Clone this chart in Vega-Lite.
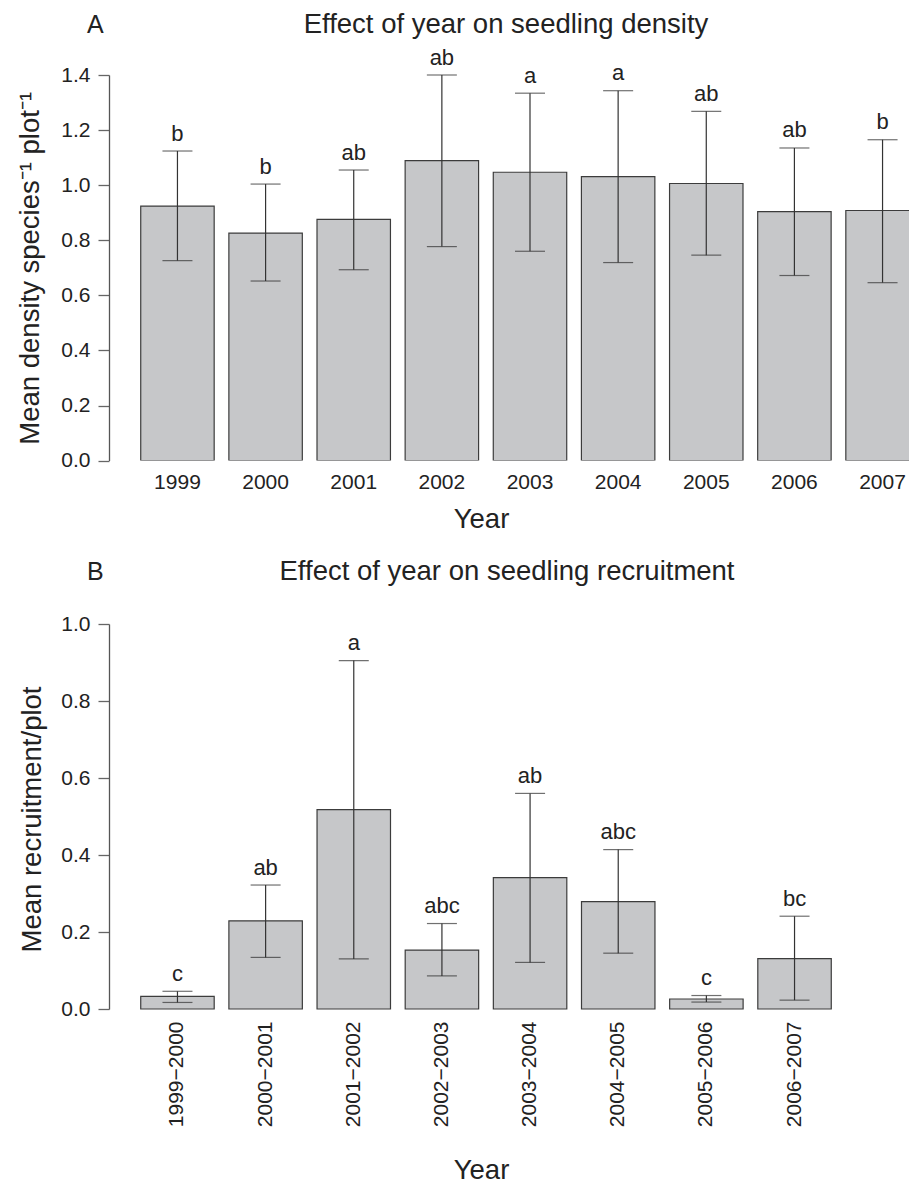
{
  "$schema": "https://vega.github.io/schema/vega-lite/v6.json",
  "background": "white",
  "padding": {"left": 15, "top": 10, "right": 0, "bottom": 0},
  "spacing": 24,
  "config": {
    "font": "Liberation Sans",
    "view": {"stroke": null},
    "axis": {"grid": false, "labelColor": "#222", "titleColor": "#222", "titleFontWeight": "normal", "labelFontSize": 21, "titleFontSize": 27.5, "labelFont": "Liberation Sans", "titleFont": "Liberation Sans"},
    "title": {"font": "Liberation Sans", "fontWeight": "normal", "color": "#222"}
  },
  "datasets": {
    "density": [
      {"year": "1999", "mean": 0.924, "lower": 0.726, "upper": 1.124, "group": "b"},
      {"year": "2000", "mean": 0.826, "lower": 0.652, "upper": 1.004, "group": "b"},
      {"year": "2001", "mean": 0.876, "lower": 0.693, "upper": 1.055, "group": "ab"},
      {"year": "2002", "mean": 1.089, "lower": 0.777, "upper": 1.400, "group": "ab"},
      {"year": "2003", "mean": 1.047, "lower": 0.760, "upper": 1.334, "group": "a"},
      {"year": "2004", "mean": 1.031, "lower": 0.719, "upper": 1.343, "group": "a"},
      {"year": "2005", "mean": 1.006, "lower": 0.746, "upper": 1.268, "group": "ab"},
      {"year": "2006", "mean": 0.904, "lower": 0.672, "upper": 1.135, "group": "ab"},
      {"year": "2007", "mean": 0.908, "lower": 0.646, "upper": 1.165, "group": "b"}
    ],
    "recruitment": [
      {"period": "1999−2000", "mean": 0.033, "lower": 0.017, "upper": 0.046, "group": "c"},
      {"period": "2000−2001", "mean": 0.229, "lower": 0.134, "upper": 0.322, "group": "ab"},
      {"period": "2001−2002", "mean": 0.518, "lower": 0.130, "upper": 0.905, "group": "a"},
      {"period": "2002−2003", "mean": 0.153, "lower": 0.086, "upper": 0.222, "group": "abc"},
      {"period": "2003−2004", "mean": 0.341, "lower": 0.121, "upper": 0.560, "group": "ab"},
      {"period": "2004−2005", "mean": 0.279, "lower": 0.145, "upper": 0.414, "group": "abc"},
      {"period": "2005−2006", "mean": 0.026, "lower": 0.018, "upper": 0.035, "group": "c"},
      {"period": "2006−2007", "mean": 0.131, "lower": 0.023, "upper": 0.241, "group": "bc"}
    ]
  },
  "vconcat": [
    {
      "data": {"name": "density"},
      "width": 800,
      "height": 385.6,
      "title": {"text": "A", "anchor": "start", "frame": "group", "fontSize": 25, "dx": -22, "dy": 28, "offset": 0},
      "layer": [
        {
          "mark": {"type": "bar", "fill": "#c6c7c9", "stroke": "#3c3c3c", "strokeWidth": 1.2, "clip": true},
          "encoding": {
            "x": {"field": "year", "type": "nominal", "sort": null, "scale": {"range": [0, 842], "paddingInner": 0.1667, "paddingOuter": 0.36},
                  "axis": {"orient": "bottom", "domain": false, "ticks": false, "tickSize": 0, "labelPadding": 11, "labelAngle": 0, "title": "Year", "titleX": 372, "titleY": 66.7, "titleBaseline": "alphabetic", "titleAlign": "center"}},
            "y": {"field": "mean", "type": "quantitative", "scale": {"domain": [0, 1.4], "nice": false},
                  "axis": {"values": [0, 0.2, 0.4, 0.6, 0.8, 1.0, 1.2, 1.4], "format": ".1f", "domainColor": "#555", "domainWidth": 1.3, "tickColor": "#666", "tickWidth": 1.3, "tickSize": 11, "labelPadding": 8, "title": "Mean density species⁻¹ plot⁻¹", "titleAngle": 270, "titleX": -71, "titleY": 192.8, "titleAlign": "center", "titleBaseline": "alphabetic"}}
          }
        },
        {
          "mark": {"type": "rule", "color": "#333", "strokeWidth": 1.2},
          "encoding": {
            "x": {"field": "year", "type": "nominal", "sort": null,
                  "axis": {"orient": "top", "labels": false, "ticks": false, "domain": false, "title": "Effect of year on seedling density", "titleX": 396.5, "titleY": -43, "titleAlign": "center", "titleBaseline": "alphabetic"}},
            "y": {"field": "lower", "type": "quantitative", "scale": {"domain": [0, 1.4], "nice": false},
                  "axis": {"values": [0, 0.2, 0.4, 0.6, 0.8, 1.0, 1.2, 1.4], "format": ".1f", "domainColor": "#555", "domainWidth": 1.3, "tickColor": "#666", "tickWidth": 1.3, "tickSize": 11, "labelPadding": 8, "title": "Mean density species⁻¹ plot⁻¹", "titleAngle": 270, "titleX": -71, "titleY": 192.8, "titleAlign": "center", "titleBaseline": "alphabetic"}},
            "y2": {"field": "upper"}
          }
        },
        {
          "mark": {"type": "tick", "orient": "horizontal", "size": 30, "thickness": 1.2, "color": "#333"},
          "encoding": {
            "x": {"field": "year", "type": "nominal", "sort": null, "axis": null},
            "y": {"field": "upper", "type": "quantitative", "scale": {"domain": [0, 1.4], "nice": false},
                  "axis": {"values": [0, 0.2, 0.4, 0.6, 0.8, 1.0, 1.2, 1.4], "format": ".1f", "domainColor": "#555", "domainWidth": 1.3, "tickColor": "#666", "tickWidth": 1.3, "tickSize": 11, "labelPadding": 8, "title": "Mean density species⁻¹ plot⁻¹", "titleAngle": 270, "titleX": -71, "titleY": 192.8, "titleAlign": "center", "titleBaseline": "alphabetic"}}
          }
        },
        {
          "mark": {"type": "tick", "orient": "horizontal", "size": 30, "thickness": 1.2, "color": "#333"},
          "encoding": {
            "x": {"field": "year", "type": "nominal", "sort": null, "axis": null},
            "y": {"field": "lower", "type": "quantitative", "scale": {"domain": [0, 1.4], "nice": false},
                  "axis": {"values": [0, 0.2, 0.4, 0.6, 0.8, 1.0, 1.2, 1.4], "format": ".1f", "domainColor": "#555", "domainWidth": 1.3, "tickColor": "#666", "tickWidth": 1.3, "tickSize": 11, "labelPadding": 8, "title": "Mean density species⁻¹ plot⁻¹", "titleAngle": 270, "titleX": -71, "titleY": 192.8, "titleAlign": "center", "titleBaseline": "alphabetic"}}
          }
        },
        {
          "mark": {"type": "text", "dy": -10.5, "baseline": "alphabetic", "fontSize": 22, "color": "#222"},
          "encoding": {
            "x": {"field": "year", "type": "nominal", "sort": null, "axis": null},
            "y": {"field": "upper", "type": "quantitative", "scale": {"domain": [0, 1.4], "nice": false},
                  "axis": {"values": [0, 0.2, 0.4, 0.6, 0.8, 1.0, 1.2, 1.4], "format": ".1f", "domainColor": "#555", "domainWidth": 1.3, "tickColor": "#666", "tickWidth": 1.3, "tickSize": 11, "labelPadding": 8, "title": "Mean density species⁻¹ plot⁻¹", "titleAngle": 270, "titleX": -71, "titleY": 192.8, "titleAlign": "center", "titleBaseline": "alphabetic"}},
            "text": {"field": "group"}
          }
        }
      ],
      "resolve": {"axis": {"x": "independent"}}
    },
    {
      "data": {"name": "recruitment"},
      "width": 754,
      "height": 385,
      "title": {"text": "B", "anchor": "start", "frame": "group", "fontSize": 25, "dx": -22, "dy": 28, "offset": 0},
      "layer": [
        {
          "mark": {"type": "bar", "fill": "#c6c7c9", "stroke": "#3c3c3c", "strokeWidth": 1.2},
          "encoding": {
            "x": {"field": "period", "type": "nominal", "sort": null, "scale": {"paddingInner": 0.1667, "paddingOuter": 0.36},
                  "axis": {"orient": "bottom", "domain": false, "ticks": false, "tickSize": 0, "labelPadding": 12, "labelAngle": 270, "labelAlign": "right", "labelBaseline": "middle", "title": "Year", "titleX": 372, "titleY": 169.7, "titleBaseline": "alphabetic", "titleAlign": "center"}},
            "y": {"field": "mean", "type": "quantitative", "scale": {"domain": [0, 1.0], "nice": false},
                  "axis": {"values": [0, 0.2, 0.4, 0.6, 0.8, 1.0], "format": ".1f", "domainColor": "#555", "domainWidth": 1.3, "tickColor": "#666", "tickWidth": 1.3, "tickSize": 11, "labelPadding": 8, "title": "Mean recruitment/plot", "titleAngle": 270, "titleX": -68.5, "titleY": 195, "titleAlign": "center", "titleBaseline": "alphabetic"}}
          }
        },
        {
          "mark": {"type": "rule", "color": "#333", "strokeWidth": 1.2},
          "encoding": {
            "x": {"field": "period", "type": "nominal", "sort": null,
                  "axis": {"orient": "top", "labels": false, "ticks": false, "domain": false, "title": "Effect of year on seedling recruitment", "titleX": 397.5, "titleY": -45, "titleAlign": "center", "titleBaseline": "alphabetic"}},
            "y": {"field": "lower", "type": "quantitative", "scale": {"domain": [0, 1.0], "nice": false},
                  "axis": {"values": [0, 0.2, 0.4, 0.6, 0.8, 1.0], "format": ".1f", "domainColor": "#555", "domainWidth": 1.3, "tickColor": "#666", "tickWidth": 1.3, "tickSize": 11, "labelPadding": 8, "title": "Mean recruitment/plot", "titleAngle": 270, "titleX": -68.5, "titleY": 195, "titleAlign": "center", "titleBaseline": "alphabetic"}},
            "y2": {"field": "upper"}
          }
        },
        {
          "mark": {"type": "tick", "orient": "horizontal", "size": 30, "thickness": 1.2, "color": "#333"},
          "encoding": {
            "x": {"field": "period", "type": "nominal", "sort": null, "axis": null},
            "y": {"field": "upper", "type": "quantitative", "scale": {"domain": [0, 1.0], "nice": false},
                  "axis": {"values": [0, 0.2, 0.4, 0.6, 0.8, 1.0], "format": ".1f", "domainColor": "#555", "domainWidth": 1.3, "tickColor": "#666", "tickWidth": 1.3, "tickSize": 11, "labelPadding": 8, "title": "Mean recruitment/plot", "titleAngle": 270, "titleX": -68.5, "titleY": 195, "titleAlign": "center", "titleBaseline": "alphabetic"}}
          }
        },
        {
          "mark": {"type": "tick", "orient": "horizontal", "size": 30, "thickness": 1.2, "color": "#333"},
          "encoding": {
            "x": {"field": "period", "type": "nominal", "sort": null, "axis": null},
            "y": {"field": "lower", "type": "quantitative", "scale": {"domain": [0, 1.0], "nice": false},
                  "axis": {"values": [0, 0.2, 0.4, 0.6, 0.8, 1.0], "format": ".1f", "domainColor": "#555", "domainWidth": 1.3, "tickColor": "#666", "tickWidth": 1.3, "tickSize": 11, "labelPadding": 8, "title": "Mean recruitment/plot", "titleAngle": 270, "titleX": -68.5, "titleY": 195, "titleAlign": "center", "titleBaseline": "alphabetic"}}
          }
        },
        {
          "mark": {"type": "text", "dy": -10.5, "baseline": "alphabetic", "fontSize": 22, "color": "#222"},
          "encoding": {
            "x": {"field": "period", "type": "nominal", "sort": null, "axis": null},
            "y": {"field": "upper", "type": "quantitative", "scale": {"domain": [0, 1.0], "nice": false},
                  "axis": {"values": [0, 0.2, 0.4, 0.6, 0.8, 1.0], "format": ".1f", "domainColor": "#555", "domainWidth": 1.3, "tickColor": "#666", "tickWidth": 1.3, "tickSize": 11, "labelPadding": 8, "title": "Mean recruitment/plot", "titleAngle": 270, "titleX": -68.5, "titleY": 195, "titleAlign": "center", "titleBaseline": "alphabetic"}},
            "text": {"field": "group"}
          }
        }
      ],
      "resolve": {"axis": {"x": "independent"}}
    }
  ]
}
